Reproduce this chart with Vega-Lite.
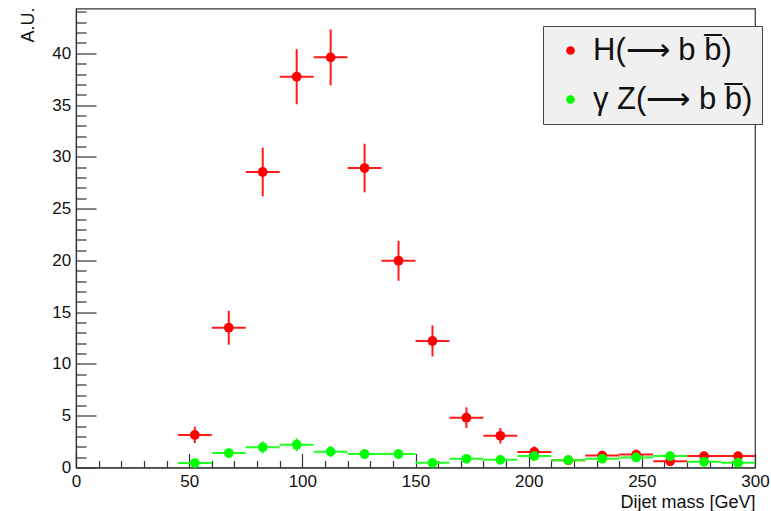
{
  "$schema": "https://vega.github.io/schema/vega-lite/v6.json",
  "width": 679,
  "height": 459,
  "autosize": {"type": "none"},
  "padding": {"left": 76, "top": 8.5, "right": 16, "bottom": 43.5},
  "background": "#ffffff",
  "config": {
    "view": {"stroke": "#333333", "strokeWidth": 1.2},
    "font": "Liberation Sans",
    "axis": {"grid": false, "domainColor": "#333333", "tickColor": "#333333", "labelColor": "#111111", "titleColor": "#111111", "labelFont": "Liberation Sans", "titleFont": "Liberation Sans", "labelFontSize": 17, "titleFontSize": 18, "titleFontWeight": "normal", "labelOverlap": false, "labelFlush": false}
  },
  "data": {"values": [
    {"s": "H", "m": 52.5, "x0": 45, "x1": 60, "y": 3.14, "ylo": 2.35, "yhi": 3.93},
    {"s": "H", "m": 67.5, "x0": 60, "x1": 75, "y": 13.5, "ylo": 11.86, "yhi": 15.14},
    {"s": "H", "m": 82.5, "x0": 75, "x1": 90, "y": 28.54, "ylo": 26.19, "yhi": 30.89},
    {"s": "H", "m": 97.5, "x0": 90, "x1": 105, "y": 37.74, "ylo": 35.08, "yhi": 40.4},
    {"s": "H", "m": 112.5, "x0": 105, "x1": 120, "y": 39.61, "ylo": 36.91, "yhi": 42.31},
    {"s": "H", "m": 127.5, "x0": 120, "x1": 135, "y": 28.92, "ylo": 26.57, "yhi": 31.27},
    {"s": "H", "m": 142.5, "x0": 135, "x1": 150, "y": 19.97, "ylo": 18.04, "yhi": 21.9},
    {"s": "H", "m": 157.5, "x0": 150, "x1": 165, "y": 12.22, "ylo": 10.72, "yhi": 13.72},
    {"s": "H", "m": 172.5, "x0": 165, "x1": 180, "y": 4.81, "ylo": 3.81, "yhi": 5.81},
    {"s": "H", "m": 187.5, "x0": 180, "x1": 195, "y": 3.06, "ylo": 2.3, "yhi": 3.82},
    {"s": "H", "m": 202.5, "x0": 195, "x1": 210, "y": 1.5, "ylo": 0.98, "yhi": 2.02},
    {"s": "H", "m": 217.5, "x0": 210, "x1": 225, "y": 0.7, "ylo": 0.35, "yhi": 1.05},
    {"s": "H", "m": 232.5, "x0": 225, "x1": 240, "y": 1.15, "ylo": 0.7, "yhi": 1.6},
    {"s": "H", "m": 247.5, "x0": 240, "x1": 255, "y": 1.25, "ylo": 0.78, "yhi": 1.72},
    {"s": "H", "m": 262.5, "x0": 255, "x1": 270, "y": 0.6, "ylo": 0.27, "yhi": 0.93},
    {"s": "H", "m": 277.5, "x0": 270, "x1": 285, "y": 1.1, "ylo": 0.66, "yhi": 1.54},
    {"s": "H", "m": 292.5, "x0": 285, "x1": 300, "y": 1.1, "ylo": 0.66, "yhi": 1.54},
    {"s": "Z", "m": 52.5, "x0": 45, "x1": 60, "y": 0.43, "ylo": 0.15, "yhi": 0.71},
    {"s": "Z", "m": 67.5, "x0": 60, "x1": 75, "y": 1.4, "ylo": 0.9, "yhi": 1.9},
    {"s": "Z", "m": 82.5, "x0": 75, "x1": 90, "y": 1.95, "ylo": 1.36, "yhi": 2.54},
    {"s": "Z", "m": 97.5, "x0": 90, "x1": 105, "y": 2.2, "ylo": 1.58, "yhi": 2.82},
    {"s": "Z", "m": 112.5, "x0": 105, "x1": 120, "y": 1.53, "ylo": 1.01, "yhi": 2.05},
    {"s": "Z", "m": 127.5, "x0": 120, "x1": 135, "y": 1.3, "ylo": 0.82, "yhi": 1.78},
    {"s": "Z", "m": 142.5, "x0": 135, "x1": 150, "y": 1.3, "ylo": 0.82, "yhi": 1.78},
    {"s": "Z", "m": 157.5, "x0": 150, "x1": 165, "y": 0.45, "ylo": 0.17, "yhi": 0.73},
    {"s": "Z", "m": 172.5, "x0": 165, "x1": 180, "y": 0.84, "ylo": 0.46, "yhi": 1.22},
    {"s": "Z", "m": 187.5, "x0": 180, "x1": 195, "y": 0.74, "ylo": 0.38, "yhi": 1.1},
    {"s": "Z", "m": 202.5, "x0": 195, "x1": 210, "y": 1.1, "ylo": 0.66, "yhi": 1.54},
    {"s": "Z", "m": 217.5, "x0": 210, "x1": 225, "y": 0.71, "ylo": 0.36, "yhi": 1.06},
    {"s": "Z", "m": 232.5, "x0": 225, "x1": 240, "y": 0.84, "ylo": 0.46, "yhi": 1.22},
    {"s": "Z", "m": 247.5, "x0": 240, "x1": 255, "y": 0.97, "ylo": 0.56, "yhi": 1.38},
    {"s": "Z", "m": 262.5, "x0": 255, "x1": 270, "y": 1.1, "ylo": 0.66, "yhi": 1.54},
    {"s": "Z", "m": 277.5, "x0": 270, "x1": 285, "y": 0.55, "ylo": 0.24, "yhi": 0.86},
    {"s": "Z", "m": 292.5, "x0": 285, "x1": 300, "y": 0.46, "ylo": 0.18, "yhi": 0.74}
  ]},
  "layer": [
    {
      "transform": [{"filter": "datum.s === 'H'"}],
      "mark": {"type": "rule", "color": "#ff1a1a", "strokeWidth": 2},
      "encoding": {
        "x": {"field": "x0", "type": "quantitative", "scale": {"domain": [0, 300], "nice": false, "zero": false},
          "axis": {"title": "Dijet mass [GeV]", "titleAnchor": "end", "titleAlign": "right", "titleBaseline": "middle", "titleX": 679, "titleY": 34.5,
            "values": [0,10,20,30,40,50,60,70,80,90,100,110,120,130,140,150,160,170,180,190,200,210,220,230,240,250,260,270,280,290,300],
            "tickCount": 200, "format": "d",
            "labelExpr": "datum.value % 50 === 0 ? datum.label : ''",
            "tickSize": {"condition": {"test": "datum.value % 50 === 0", "value": -14}, "value": -7},
            "labelPadding": 20, "tickWidth": 1.2, "domainWidth": 1.2}},
        "x2": {"field": "x1"},
        "y": {"field": "y", "type": "quantitative", "scale": {"domain": [0, 44.33], "nice": false, "zero": false},
          "axis": {"title": "A.U.", "titleAngle": -90, "titleAlign": "right", "titleBaseline": "middle", "titleX": -48, "titleY": -1.5,
            "values": [0,1,2,3,4,5,6,7,8,9,10,11,12,13,14,15,16,17,18,19,20,21,22,23,24,25,26,27,28,29,30,31,32,33,34,35,36,37,38,39,40,41,42,43,44],
            "tickCount": 200, "format": "d",
            "labelExpr": "datum.value % 5 === 0 ? datum.label : ''",
            "tickSize": {"condition": {"test": "datum.value % 5 === 0", "value": -20}, "value": -10},
            "labelPadding": 25.3, "tickWidth": 1.2, "domainWidth": 1.2}}
      }
    },
    {
      "transform": [{"filter": "datum.s === 'H'"}],
      "mark": {"type": "rule", "color": "#ff1a1a", "strokeWidth": 2},
      "encoding": {
        "x": {"field": "m", "type": "quantitative"},
        "y": {"field": "ylo", "type": "quantitative"},
        "y2": {"field": "yhi"}
      }
    },
    {
      "transform": [{"filter": "datum.s === 'H'"}],
      "mark": {"type": "point", "filled": true, "shape": "circle", "size": 95, "opacity": 1},
      "encoding": {
        "x": {"field": "m", "type": "quantitative"},
        "y": {"field": "y", "type": "quantitative"},
        "color": {"field": "s", "type": "nominal", "scale": {"domain": ["H", "Z"], "range": ["#ff0000", "#00ff00"]},
          "legend": {"title": null, "orient": "none", "legendX": 467, "legendY": 17.5, "fillColor": "#f0f0f0", "strokeColor": "#444444",
            "padding": 9, "symbolOffset": 3, "labelOffset": 7, "labelFontSize": 31, "labelFont": "Liberation Sans", "labelColor": "#111111",
            "symbolSize": 75, "symbolStrokeWidth": 0, "rowPadding": 17, "labelLimit": 400,
            "labelExpr": "datum.value === 'H' ? 'H(⟶ b b̅)' : 'γ Z(⟶ b b̅)'"}}
      }
    },
    {
      "transform": [{"filter": "datum.s === 'Z'"}],
      "mark": {"type": "rule", "color": "#22ff22", "strokeWidth": 2},
      "encoding": {
        "x": {"field": "x0", "type": "quantitative"},
        "x2": {"field": "x1"},
        "y": {"field": "y", "type": "quantitative"}
      }
    },
    {
      "transform": [{"filter": "datum.s === 'Z'"}],
      "mark": {"type": "rule", "color": "#22ff22", "strokeWidth": 2},
      "encoding": {
        "x": {"field": "m", "type": "quantitative"},
        "y": {"field": "ylo", "type": "quantitative"},
        "y2": {"field": "yhi"}
      }
    },
    {
      "transform": [{"filter": "datum.s === 'Z'"}],
      "mark": {"type": "point", "filled": true, "shape": "circle", "size": 95, "opacity": 1},
      "encoding": {
        "x": {"field": "m", "type": "quantitative"},
        "y": {"field": "y", "type": "quantitative"},
        "color": {"field": "s", "type": "nominal"}
      }
    }
  ]
}
